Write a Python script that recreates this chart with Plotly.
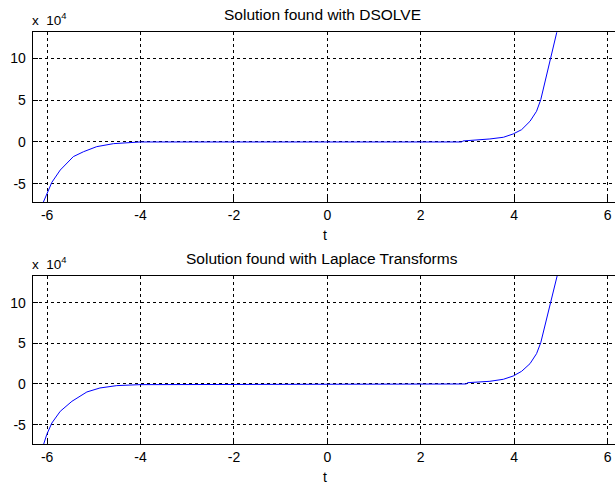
import plotly.graph_objects as go

# ---- data, y in absolute units ----
t_dsolve = [-6.16, -6.09, -6.01, -5.90, -5.72, -5.44, -5.22, -4.94, -4.58, -4.22, -4.01,
            2.88, 2.90, 3.48, 3.77, 3.98, 4.16, 4.34, 4.48, 4.57, 4.66, 4.77, 4.84, 4.91, 4.96]
y_dsolve = [-82000, -73000, -61300, -48200, -33500, -17500, -11600, -5600, -2000, -400, 0,
            0, 1200, 3600, 5600, 9600, 14700, 24700, 36700, 50500, 72500, 99000, 116000, 130600, 142000]

t_laplace = [-6.16, -6.09, -6.01, -5.90, -5.72, -5.47, -5.15, -4.87, -4.51, -4.01,
             2.98, 3.00, 3.48, 3.77, 3.98, 4.16, 4.34, 4.48, 4.57, 4.66, 4.77, 4.91, 4.96]
y_laplace = [-86000, -76600, -62300, -48000, -33600, -21300, -9800, -4900, -2000, -800,
             0, 1600, 3300, 5800, 9800, 15600, 25000, 37300, 50800, 72000, 99000, 132000, 142000]

titles = ["Solution found with DSOLVE", "Solution found with Laplace Transforms"]
x_ticks = [-6, -4, -2, 0, 2, 4, 6]
x_tick_labels = ["-6", "-4", "-2", "0", "2", "4", "6"]
y_ticks = [-50000, 0, 50000, 100000]
y_tick_labels = ["-5", "0", "5", "10"]

W, H = 615, 487
FONT = "Liberation Sans, Arial, sans-serif"

x_left_px = 32.7
boxes = [(32.3, 202.0), (276.0, 444.0)]  # (top, bottom) in px
y_ranges = [[-71700, 131000], [-73800, 132800]]

fig = go.Figure()
fig.add_trace(go.Scatter(x=t_dsolve, y=y_dsolve, mode="lines",
                         line=dict(color="#0000ff", width=1), xaxis="x", yaxis="y",
                         showlegend=False))
fig.add_trace(go.Scatter(x=t_laplace, y=y_laplace, mode="lines",
                         line=dict(color="#0000ff", width=1), xaxis="x2", yaxis="y2",
                         showlegend=False))

tickfont = dict(family=FONT, size=14, color="black")
common_x = dict(range=[-6.31, 6.16], tickmode="array", tickvals=x_ticks, ticktext=x_tick_labels,
                ticks="inside", ticklen=5, tickcolor="black", showline=True, linecolor="black",
                linewidth=1, mirror=True, showgrid=True, gridcolor="black", gridwidth=1,
                griddash="3px,3px", zeroline=False, tickfont=tickfont)
common_y = dict(tickmode="array", tickvals=y_ticks, ticktext=y_tick_labels,
                ticks="inside", ticklen=5, tickcolor="black", showline=True, linecolor="black",
                linewidth=1, mirror=True, showgrid=True, gridcolor="black", gridwidth=1,
                griddash="3px,3px", zeroline=False, tickfont=tickfont, ticklabelstandoff=3)

xd = [x_left_px / W, 1.0]
yd1 = [1 - boxes[0][1] / H, 1 - boxes[0][0] / H]
yd2 = [1 - boxes[1][1] / H, 1 - boxes[1][0] / H]

fig.update_layout(
    width=W, height=H, margin=dict(l=0, r=0, t=0, b=0),
    paper_bgcolor="white", plot_bgcolor="white",
    xaxis=dict(common_x, domain=xd, anchor="y"),
    yaxis=dict(common_y, domain=yd1, anchor="x", range=y_ranges[0]),
    xaxis2=dict(common_x, domain=xd, anchor="y2"),
    yaxis2=dict(common_y, domain=yd2, anchor="x2", range=y_ranges[1]),
)

ann = []
for (top, bottom), title in zip(boxes, titles):
    ann.append(dict(text=title, x=322 / W, y=1 - (top - 17.5) / H, xref="paper", yref="paper",
                    xanchor="center", yanchor="middle", showarrow=False,
                    font=dict(family=FONT, size=15.5, color="black")))
    ann.append(dict(text="x  10<sup>4</sup>", x=30 / W, y=1 - (top - 13.5) / H, xref="paper",
                    yref="paper", xanchor="left", yanchor="middle", showarrow=False,
                    font=dict(family=FONT, size=13.5, color="black")))
    ann.append(dict(text="t", x=325 / W, y=1 - (bottom + 33) / H, xref="paper", yref="paper",
                    xanchor="center", yanchor="middle", showarrow=False,
                    font=dict(family=FONT, size=14, color="black")))
fig.update_layout(annotations=ann)

fig.write_html("out.html", config={"displayModeBar": False},
               post_script="document.body.style.margin='0';document.body.style.overflow='hidden';")
